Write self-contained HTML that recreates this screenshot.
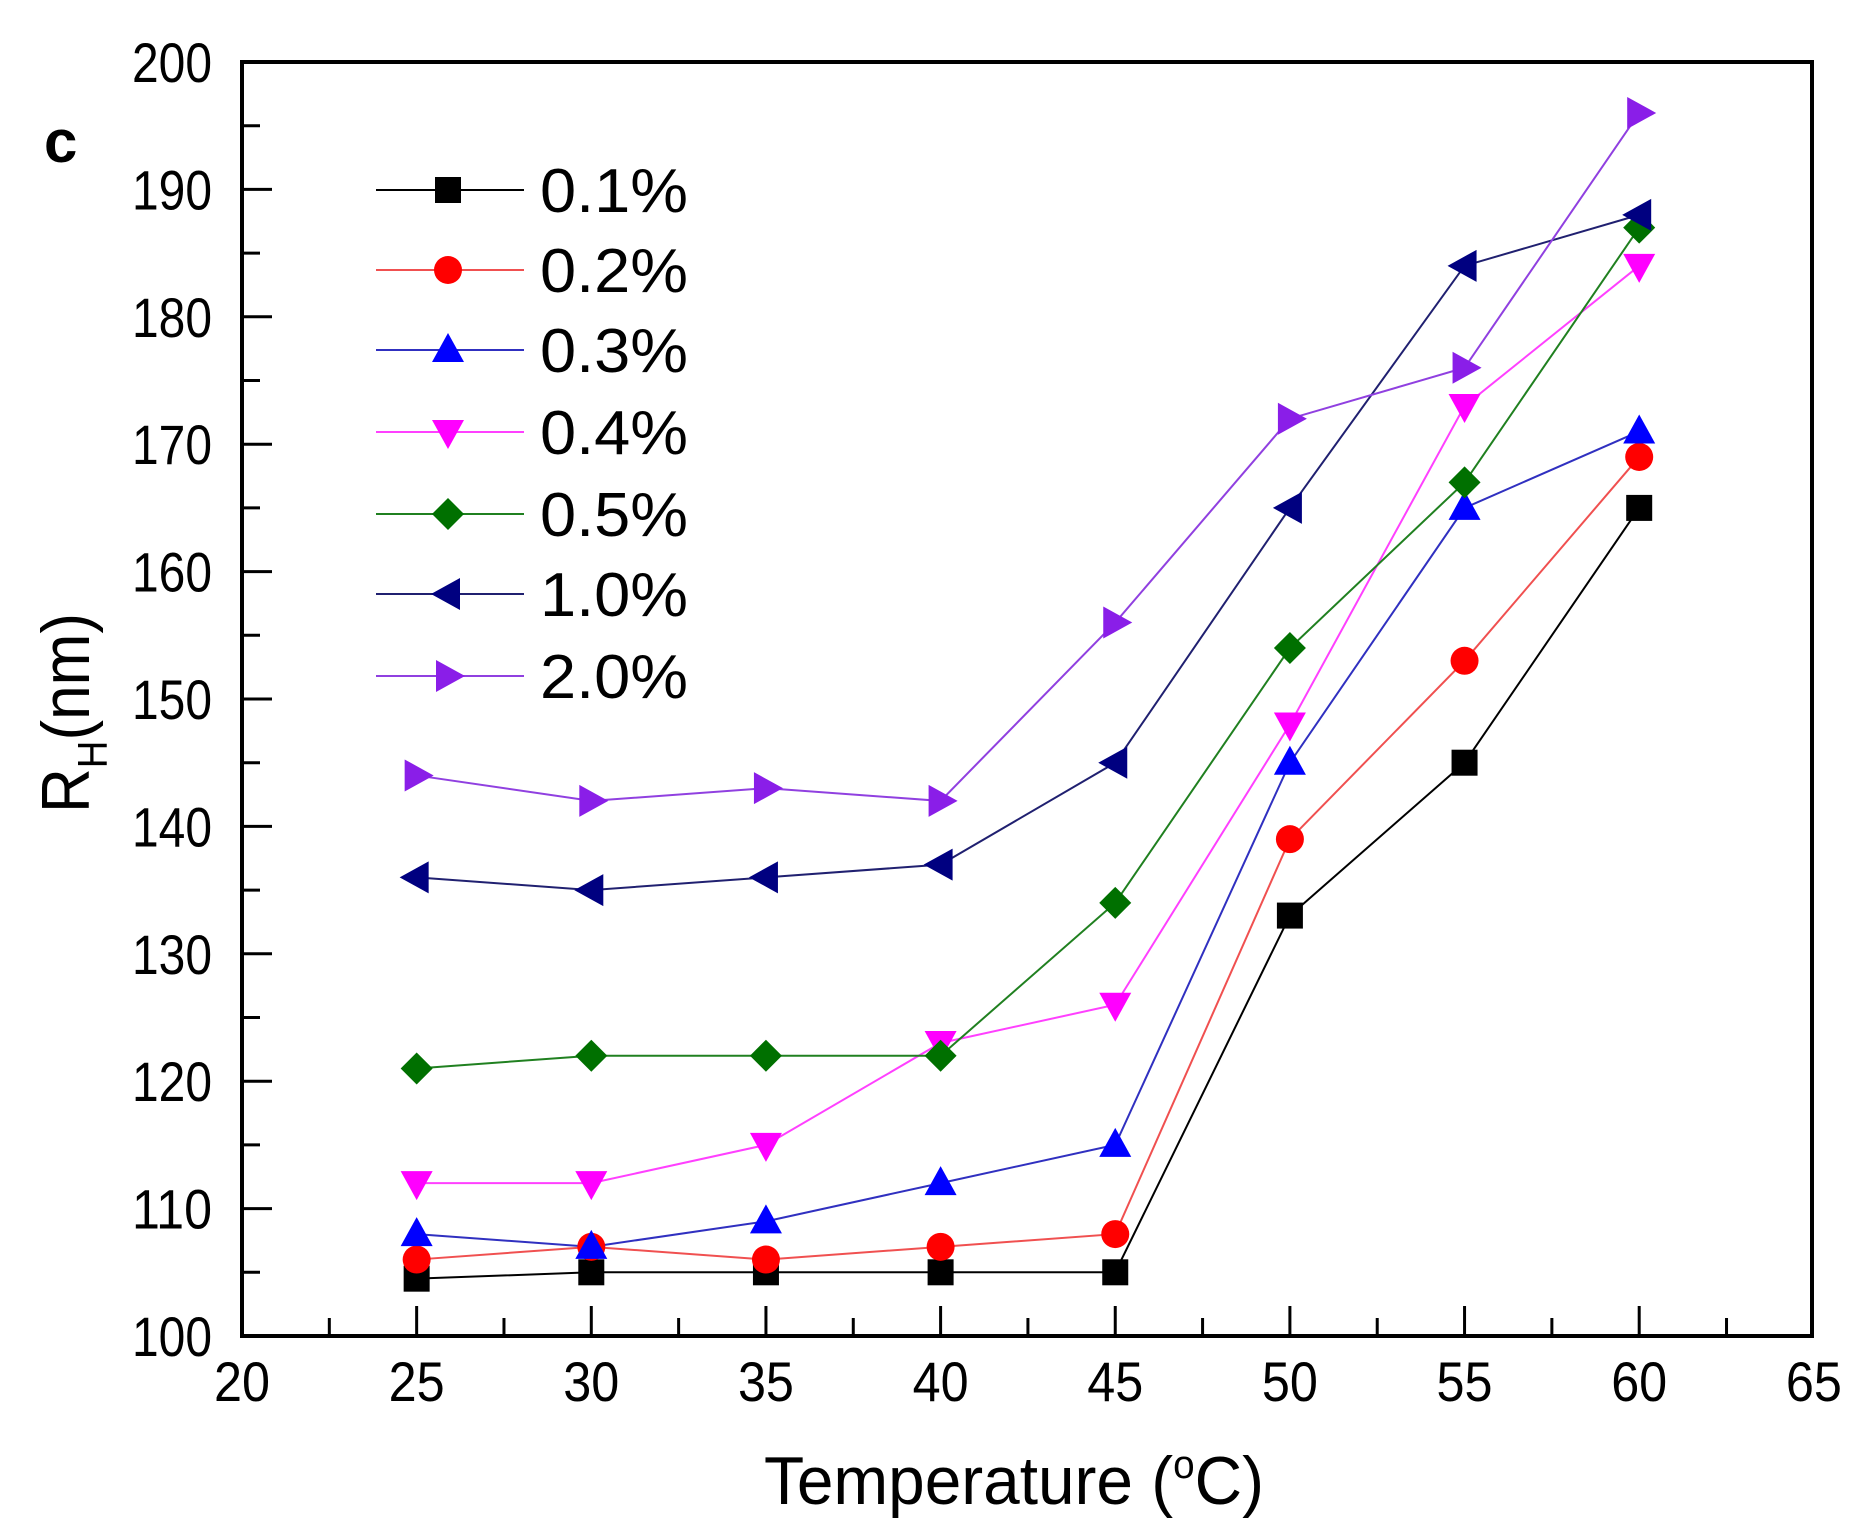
<!DOCTYPE html>
<html><head><style>html,body{margin:0;padding:0;background:#fff}svg{display:block}</style></head>
<body>
<svg id="s" width="1872" height="1536" viewBox="0 0 1872 1536" xmlns="http://www.w3.org/2000/svg" font-family="Liberation Sans, Arial, sans-serif">
<rect width="1872" height="1536" fill="#fff"/>
<g id="ticks" stroke="#000" stroke-width="3"></g>
<g id="series"></g>
<rect x="242" y="62" width="1570" height="1274" fill="none" stroke="#000" stroke-width="4"/>
<g font-size="56" fill="#000" text-anchor="end" id="ylab"></g>
<g font-size="56" fill="#000" text-anchor="middle" id="xlab"></g>
<text x="1014" y="1504" font-size="68" text-anchor="middle" textLength="500" lengthAdjust="spacingAndGlyphs">Temperature (<tspan font-size="40" dy="-26">o</tspan><tspan dy="26">C)</tspan></text>
<g transform="translate(89,813) rotate(-90)"><text x="0" y="0" font-size="68" textLength="200" lengthAdjust="spacingAndGlyphs">R<tspan font-size="42" dy="18">H</tspan><tspan dy="-18">(nm)</tspan></text></g>
<text x="44" y="162" font-size="60" font-weight="bold">c</text>
<g id="legend" font-size="62" fill="#000"></g>
</svg>
<script>
const X=t=>242+(t-20)*34.93, Y=v=>1336-(v-100)*12.74;
const ns="http://www.w3.org/2000/svg";
function el(p,tag,a){const e=document.createElementNS(ns,tag);for(const k in a)e.setAttribute(k,a[k]);p.appendChild(e);return e;}
const yl=document.getElementById('ylab'), xl=document.getElementById('xlab');
for(let v=100;v<=200;v+=10){const t=el(yl,'text',{x:212,y:Y(v)+20,textLength:80,lengthAdjust:'spacingAndGlyphs'});t.textContent=v;}
for(let v=20;v<=65;v+=5){const t=el(xl,'text',{x:X(v),y:1401,textLength:56,lengthAdjust:'spacingAndGlyphs'});t.textContent=v;}
const tk=document.getElementById('ticks');
for(let t=22.5;t<65;t+=2.5){const maj=(t%5===0);el(tk,'line',{x1:X(t),x2:X(t),y1:1336,y2:1336-(maj?30:18)});}
for(let v=105;v<200;v+=5){const maj=(v%10===0);el(tk,'line',{x1:242,x2:242+(maj?30:18),y1:Y(v),y2:Y(v)});}
const T=[25,30,35,40,45,50,55,60];
const S=[
["0.1%","#000","#000","sq",[104.5,105,105,105,105,133,145,165]],
["0.2%","#ff0000","#f05050","ci",[106,107,106,107,108,139,153,169]],
["0.3%","#0000ff","#3030c0","up",[108,107,109,112,115,145,165,171]],
["0.4%","#ff00ff","#ff40ff","dn",[112,112,115,123,126,148,173,184]],
["0.5%","#007000","#208020","di",[121,122,122,122,134,154,167,187]],
["1.0%","#000080","#202070","lt",[136,135,136,137,145,165,184,188]],
["2.0%","#8a1ee8","#9040e0","rt",[144,142,143,142,156,172,176,196]]];
function mk(g,type,x,y,c){const r=16;
 if(type==='sq')el(g,'rect',{x:x-13,y:y-13,width:26,height:26,fill:c});
 else if(type==='ci')el(g,'circle',{cx:x,cy:y,r:14,fill:c});
 else{let p;
  if(type==='up')p=[[x,y-r-1],[x-r,y+r-4],[x+r,y+r-4]];
  if(type==='dn')p=[[x,y+r+1],[x-r,y-r+4],[x+r,y-r+4]];
  if(type==='lt')p=[[x-r-1,y],[x+r-4,y-r],[x+r-4,y+r]];
  if(type==='rt')p=[[x+r+1,y],[x-r+4,y-r],[x-r+4,y+r]];
  if(type==='di')p=[[x,y-r],[x+r,y],[x,y+r],[x-r,y]];
  el(g,'polygon',{points:p.map(q=>q.join(',')).join(' '),fill:c});}
}
const sg=document.getElementById('series'), lg=document.getElementById('legend');
const ly=[190,270,350,432,514,594,676];
S.forEach((s,i)=>{
 el(sg,'polyline',{points:T.map((t,j)=>X(t)+','+Y(s[4][j])).join(' '),fill:'none',stroke:s[2],'stroke-width':2});
});
S.forEach((s,i)=>{
 T.forEach((t,j)=>mk(sg,s[3],X(t),Y(s[4][j]),s[1]));
 el(lg,'line',{x1:376,x2:524,y1:ly[i],y2:ly[i],stroke:s[2],'stroke-width':2});
 mk(lg,s[3],448,ly[i],s[1]);
 const tx=el(lg,'text',{x:540,y:ly[i]+22,textLength:148,lengthAdjust:'spacingAndGlyphs'});tx.textContent=s[0];
});
</script>
</body></html>
